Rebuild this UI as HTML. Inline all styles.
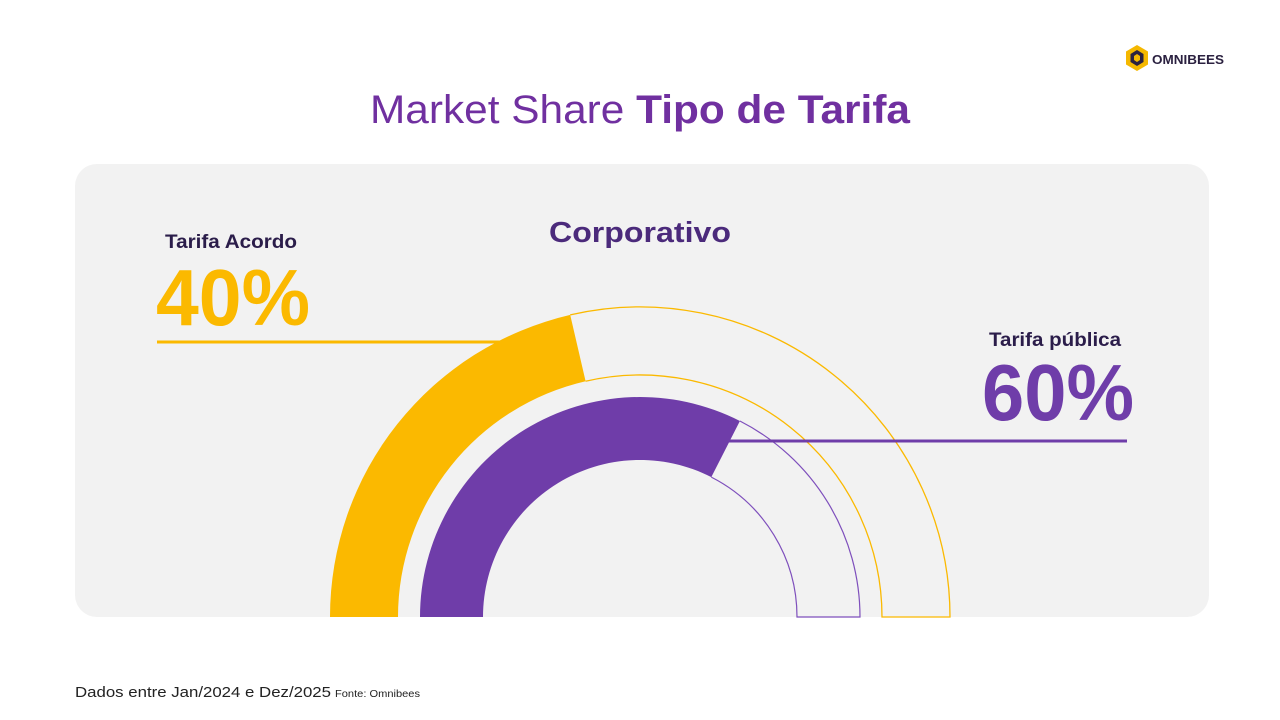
<!DOCTYPE html>
<html><head><meta charset="utf-8"><style>
html,body{margin:0;padding:0;background:#fff;}
svg{display:block;font-family:"Liberation Sans",sans-serif;}
</style></head><body>
<svg width="1280" height="720" viewBox="0 0 1280 720">
<rect x="0" y="0" width="1280" height="720" fill="#fff"/>
<!-- logo -->
<polygon points="1137,45 1148,51.5 1148,64.5 1137,71 1126,64.5 1126,51.5" fill="#f5b800"/>
<polygon points="1137,50 1143.5,54 1143.5,62 1137,66 1130.5,62 1130.5,54" fill="#2b2140"/>
<polygon points="1137,54 1140,56 1140,60 1137,62 1134,60 1134,56" fill="#f5b800"/>
<text x="1152" y="64" font-size="13" font-weight="bold" fill="#2b2140" textLength="72" lengthAdjust="spacingAndGlyphs">OMNIBEES</text>
<!-- title -->
<text x="370" y="123" font-size="40" fill="#7030a0" textLength="540" lengthAdjust="spacingAndGlyphs">Market Share <tspan font-weight="bold">Tipo de Tarifa</tspan></text>
<!-- panel -->
<rect x="75" y="164" width="1134" height="453" rx="22" fill="#f2f2f2"/>
<text x="640" y="242" text-anchor="middle" font-size="29" font-weight="bold" fill="#4b2a7b" textLength="182" lengthAdjust="spacingAndGlyphs">Corporativo</text>
<!-- yellow -->
<path d="M330,617 A310,310 0 0 1 570.2,314.9 L585.6,381.2 A242,242 0 0 0 398,617 Z" fill="#fbb900"/>
<path d="M570.2,314.9 A310,310 0 0 1 950,617 L882,617 A242,242 0 0 0 585.6,381.2" fill="none" stroke="#fbb900" stroke-width="1.3"/>
<!-- purple -->
<path d="M420,617 A220,220 0 0 1 739.9,421 L711.3,477.1 A157,157 0 0 0 483,617 Z" fill="#6f3da9"/>
<path d="M739.9,421 A220,220 0 0 1 860,617 L797,617 A157,157 0 0 0 711.3,477.1" fill="none" stroke="#7e4fbc" stroke-width="1.2"/>
<!-- lines -->
<line x1="157" y1="342" x2="500" y2="342" stroke="#fbb900" stroke-width="3"/>
<line x1="728" y1="441" x2="1127" y2="441" stroke="#6f3da9" stroke-width="3"/>
<!-- labels -->
<text x="165" y="248" font-size="19" font-weight="bold" fill="#2b1d4a" textLength="132" lengthAdjust="spacingAndGlyphs">Tarifa Acordo</text>
<text x="156" y="325" font-size="80" font-weight="bold" fill="#fbb900" textLength="154" lengthAdjust="spacingAndGlyphs">40%</text>
<text x="1121" y="346" text-anchor="end" font-size="19" font-weight="bold" fill="#2b1d4a" textLength="132" lengthAdjust="spacingAndGlyphs">Tarifa pública</text>
<text x="1134" y="420" text-anchor="end" font-size="80" font-weight="bold" fill="#6f3da9" textLength="152" lengthAdjust="spacingAndGlyphs">60%</text>
<!-- footer -->
<text x="75" y="697" font-size="15" fill="#222" textLength="256" lengthAdjust="spacingAndGlyphs">Dados entre Jan/2024 e Dez/2025</text>
<text x="335" y="697" font-size="10.5" fill="#222" textLength="85" lengthAdjust="spacingAndGlyphs">Fonte: Omnibees</text>
</svg>
</body></html>
